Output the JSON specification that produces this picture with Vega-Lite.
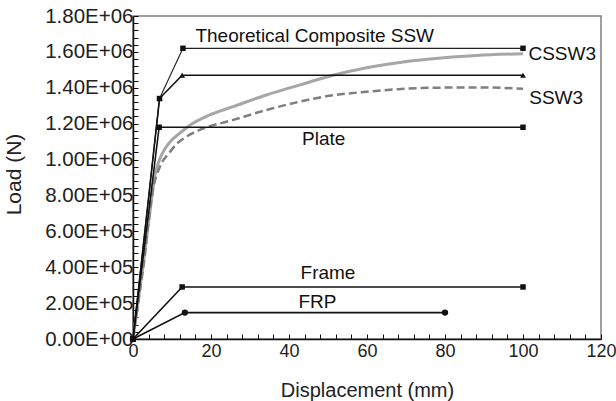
{
  "$schema": "https://vega.github.io/schema/vega-lite/v6.json",
  "width": 468,
  "height": 323,
  "autosize": "none",
  "padding": {"left": 133, "top": 16, "right": 15, "bottom": 62},
  "background": "white",
  "config": {
    "view": {"stroke": "#808080", "strokeWidth": 1.5},
    "font": "Liberation Sans",
    "axis": {"grid": false, "domainColor": "#111", "domainWidth": 1.5, "tickColor": "#111", "tickWidth": 1, "labelFont": "Liberation Sans", "titleFont": "Liberation Sans", "labelFontSize": 18, "titleFontSize": 20, "labelColor": "#222", "titleColor": "#222", "titleFontWeight": "normal", "labelOverlap": false, "labelFlush": false}
  },
  "datasets": {
    "lines": [
      {"s": "TC", "x": 0, "y": 0}, {"s": "TC", "x": 6.8, "y": 1340000}, {"s": "TC", "x": 12.8, "y": 1620000}, {"s": "TC", "x": 100, "y": 1620000},
      {"s": "TRI", "x": 0, "y": 0}, {"s": "TRI", "x": 6.8, "y": 1340000}, {"s": "TRI", "x": 12.6, "y": 1470000}, {"s": "TRI", "x": 100, "y": 1470000},
      {"s": "Plate", "x": 0, "y": 0}, {"s": "Plate", "x": 6.7, "y": 1180000}, {"s": "Plate", "x": 100, "y": 1180000},
      {"s": "Frame", "x": 0, "y": 0}, {"s": "Frame", "x": 12.6, "y": 290000}, {"s": "Frame", "x": 100, "y": 290000},
      {"s": "FRP", "x": 0, "y": 0}, {"s": "FRP", "x": 13.3, "y": 147000}, {"s": "FRP", "x": 80, "y": 147000}
    ],
    "curves": [
      {"s": "CSSW3", "x": 0, "y": 0}, {"s": "CSSW3", "x": 1.5, "y": 240000}, {"s": "CSSW3", "x": 3, "y": 480000}, {"s": "CSSW3", "x": 4.3, "y": 700000}, {"s": "CSSW3", "x": 5.6, "y": 910000}, {"s": "CSSW3", "x": 6.8, "y": 1000000}, {"s": "CSSW3", "x": 8.5, "y": 1070000}, {"s": "CSSW3", "x": 10, "y": 1110000}, {"s": "CSSW3", "x": 12, "y": 1147000}, {"s": "CSSW3", "x": 14.5, "y": 1190000}, {"s": "CSSW3", "x": 19.7, "y": 1249000}, {"s": "CSSW3", "x": 25.7, "y": 1295000}, {"s": "CSSW3", "x": 34.2, "y": 1360000}, {"s": "CSSW3", "x": 42.8, "y": 1416000}, {"s": "CSSW3", "x": 51.3, "y": 1470000}, {"s": "CSSW3", "x": 59.9, "y": 1512000}, {"s": "CSSW3", "x": 68, "y": 1540000}, {"s": "CSSW3", "x": 76.1, "y": 1560000}, {"s": "CSSW3", "x": 88, "y": 1580000}, {"s": "CSSW3", "x": 100, "y": 1590000},
      {"s": "SSW3", "x": 0, "y": 0}, {"s": "SSW3", "x": 1.5, "y": 230000}, {"s": "SSW3", "x": 3, "y": 460000}, {"s": "SSW3", "x": 3.9, "y": 640000}, {"s": "SSW3", "x": 5.1, "y": 830000}, {"s": "SSW3", "x": 6.9, "y": 960000}, {"s": "SSW3", "x": 9.4, "y": 1040000}, {"s": "SSW3", "x": 11.1, "y": 1085000}, {"s": "SSW3", "x": 13.5, "y": 1125000}, {"s": "SSW3", "x": 17.1, "y": 1165000}, {"s": "SSW3", "x": 25.7, "y": 1221000}, {"s": "SSW3", "x": 34.2, "y": 1276000}, {"s": "SSW3", "x": 42.8, "y": 1323000}, {"s": "SSW3", "x": 51.3, "y": 1358000}, {"s": "SSW3", "x": 59.9, "y": 1378000}, {"s": "SSW3", "x": 68, "y": 1392000}, {"s": "SSW3", "x": 76.1, "y": 1400000}, {"s": "SSW3", "x": 88, "y": 1402000}, {"s": "SSW3", "x": 100, "y": 1395000}
    ],
    "labels": [
      {"t": "Theoretical Composite SSW", "x": 46.6, "y": 1689000},
      {"t": "CSSW3", "x": 101.4, "y": 1589000},
      {"t": "SSW3", "x": 101.6, "y": 1345000},
      {"t": "Plate", "x": 48.9, "y": 1113000},
      {"t": "Frame", "x": 50.0, "y": 370000},
      {"t": "FRP", "x": 47.3, "y": 208000}
    ]
  },
  "encoding": {
    "x": {"field": "x", "type": "quantitative", "scale": {"domain": [0, 120], "nice": false},
      "axis": {"title": "Displacement (mm)", "values": [0,4,8,12,16,20,24,28,32,36,40,44,48,52,56,60,64,68,72,76,80,84,88,92,96,100,104,108,112,116,120],
        "labelExpr": "datum.value % 20 == 0 ? datum.label : ''", "tickSize": -5, "labelPadding": 8, "labelBaseline": "top", "titleY": 51, "titleBaseline": "middle"}},
    "y": {"field": "y", "type": "quantitative", "scale": {"domain": [0, 1800000], "nice": false},
      "axis": {"title": "Load (N)", "titleFontSize": 21, "labelFontSize": 20.5, "values": [0,40000,80000,120000,160000,200000,240000,280000,320000,360000,400000,440000,480000,520000,560000,600000,640000,680000,720000,760000,800000,840000,880000,920000,960000,1000000,1040000,1080000,1120000,1160000,1200000,1240000,1280000,1320000,1360000,1400000,1440000,1480000,1520000,1560000,1600000,1640000,1680000,1720000,1760000,1800000],
        "labelExpr": "datum.value % 200000 == 0 ? replace(format(datum.value, '.2e'), 'e+', 'E+0') : ''", "tickSize": -5, "labelPadding": 5, "titleX": -119, "titleY": 158, "titleBaseline": "middle"}}
  },
  "layer": [
    {"data": {"name": "curves"}, "transform": [{"filter": "datum.s == 'CSSW3'"}], "mark": {"type": "line", "color": "#a6a6a6", "strokeWidth": 3, "interpolate": "monotone"}},
    {"data": {"name": "curves"}, "transform": [{"filter": "datum.s == 'SSW3'"}], "mark": {"type": "line", "color": "#7f7f7f", "strokeWidth": 2.5, "strokeDash": [8, 4], "interpolate": "monotone"}},
    {"data": {"name": "lines"}, "transform": [{"filter": "datum.s == 'TC'"}], "mark": {"type": "line", "color": "#222", "strokeWidth": 1.2}},
    {"data": {"name": "lines"}, "transform": [{"filter": "datum.s != 'TC'"}], "mark": {"type": "line", "color": "#111", "strokeWidth": 1.6}, "encoding": {"detail": {"field": "s"}}},
    {"data": {"name": "lines"}, "transform": [{"filter": "datum.s == 'TC' || datum.s == 'Plate' || datum.s == 'Frame'"}], "mark": {"type": "point", "shape": "square", "filled": true, "color": "#111", "opacity": 1, "size": 30}},
    {"data": {"name": "lines"}, "transform": [{"filter": "datum.s == 'TRI'"}], "mark": {"type": "point", "shape": "triangle-up", "filled": true, "color": "#111", "opacity": 1, "size": 35}},
    {"data": {"name": "lines"}, "transform": [{"filter": "datum.s == 'FRP'"}], "mark": {"type": "point", "shape": "circle", "filled": true, "color": "#111", "opacity": 1, "size": 40}},
    {"data": {"name": "labels"}, "transform": [{"filter": "datum.t != 'CSSW3' && datum.t != 'SSW3'"}], "mark": {"type": "text", "fontSize": 19, "font": "Liberation Sans", "color": "#111", "align": "center", "baseline": "middle"}, "encoding": {"text": {"field": "t"}}},
    {"data": {"name": "labels"}, "transform": [{"filter": "datum.t == 'CSSW3' || datum.t == 'SSW3'"}], "mark": {"type": "text", "fontSize": 19, "font": "Liberation Sans", "color": "#111", "align": "left", "baseline": "middle"}, "encoding": {"text": {"field": "t"}}}
  ]
}
